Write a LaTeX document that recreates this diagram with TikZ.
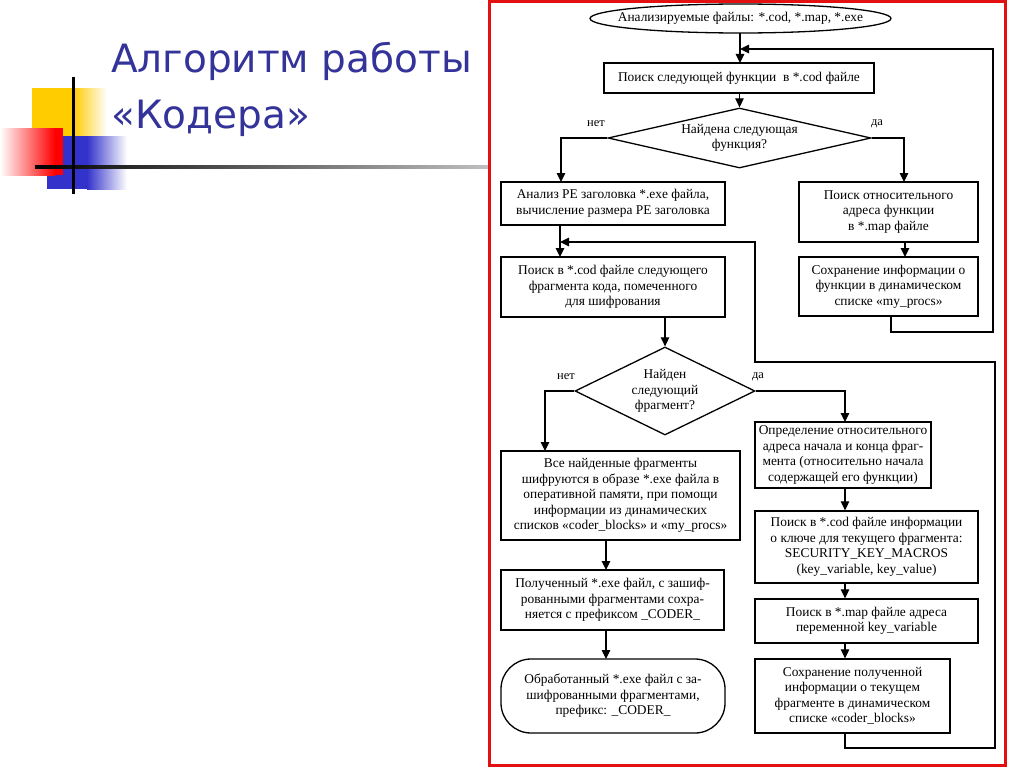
\documentclass[tikz,border=0pt]{standalone}
\usepackage{fontspec}
\setmainfont{Liberation Serif}
\newfontfamily\titlefont{DejaVu Sans}
\usetikzlibrary{arrows.meta,shapes.geometric}
\definecolor{titleblue}{RGB}{51,51,153}
\definecolor{frame}{RGB}{226,16,16}
\definecolor{decoyellow}{RGB}{255,204,0}
\definecolor{decoblue}{RGB}{51,51,204}
\newcommand\flowfont{\fontsize{13.4}{15.5}\selectfont}
\tikzset{
  fbox/.style={draw, line width=1.3pt, inner sep=1pt, align=center, font=\flowfont},
  flowline/.style={line width=1.2pt},
  arr/.style={line width=1.2pt, -{Triangle[length=9pt,width=8.5pt]}},
  yesno/.style={font=\fontsize{12.5}{14}\selectfont, inner sep=0pt},
  ttl/.style={font=\titlefont\fontsize{39}{46}\selectfont, text=titleblue, inner sep=0pt, anchor=base west}
}
\begin{document}
\begin{tikzpicture}[x=1pt,y=-1pt]
\useasboundingbox (0,0) rectangle (1024,768);
\fill[white] (0,0) rectangle (1024,768);

% decoration
\fill[decoyellow] (32,88) rectangle (73,137);
\shade[left color=decoyellow, right color=white] (73,88) rectangle (107,137);
\fill[decoblue] (47,136) rectangle (87,189);
\shade[left color=decoblue, right color=white] (87,136) rectangle (127,189);
\shade[left color=white, right color=red] (0,128) rectangle (55,175);
\fill[red] (55,128) rectangle (63,175);
\shade[left color=black, right color=black!25] (35,165.5) rectangle (488,168.5);
\fill[black] (71.5,77) rectangle (74.5,194);

% title
\node[ttl] (t1) at (111,72) {Алгоритм работы};
\node[ttl] (t2) at (111,128) {«Кодера»};

% frame
\draw[frame, line width=3pt] (489,1.5) rectangle (1005,765);

% nodes
\node[draw, ellipse, line width=1.3pt, minimum width=301pt, minimum height=29pt, inner sep=0pt,
  label={[font=\flowfont, inner sep=0pt]center:Анализируемые файлы: *.cod, *.map, *.exe}] (start) at (740.5,18.5) {};
\node[fbox, minimum width=270pt, minimum height=30pt] (b1) at (739,78) {Поиск следующей функции\ \ в *.cod файле};
\node[draw, diamond, line width=1.3pt, minimum width=263pt, minimum height=60pt, inner sep=0pt,
  label={[font=\flowfont, align=center, inner sep=0pt]center:Найдена следующая\\функция?}] (d1) at (739.5,138) {};
\node[fbox, minimum width=224pt, minimum height=43pt] (b2) at (613,203.5) {Анализ PE заголовка *.exe файла,\\вычисление размера PE заголовка};
\node[fbox, minimum width=224pt, minimum height=60pt] (b4) at (613,287) {Поиск в *.cod файле следующего\\фрагмента кода, помеченного\\для шифрования};
\node[fbox, minimum width=179pt, minimum height=60pt] (b3) at (888.5,212) {Поиск относительного\\адреса функции\\в *.map файле};
\node[fbox, minimum width=179pt, minimum height=59pt] (b5) at (888.5,286.5) {Сохранение информации о\\функции в динамическом\\списке «my\_procs»};
\node[draw, diamond, line width=1.3pt, minimum width=180pt, minimum height=88pt, inner sep=0pt,
  label={[font=\flowfont, align=center, inner sep=0pt]center:Найден\\следующий\\фрагмент?}] (d2) at (665,391) {};
\node[fbox, minimum width=239pt, minimum height=89pt] (b6) at (620.5,495.5) {Все найденные фрагменты\\шифруются в образе *.exe файла в\\оперативной памяти, при помощи\\информации из динамических\\списков «coder\_blocks» и «my\_procs»};
\node[fbox, minimum width=223pt, minimum height=60pt] (b8) at (612.5,600) {Полученный *.exe файл, с зашиф-\\рованными фрагментами сохра-\\няется с префиксом \_CODER\_};
\node[fbox, rounded corners=30pt, minimum width=224pt, minimum height=74pt] (term) at (613,696) {Обработанный *.exe файл с за-\\шифрованными фрагментами,\\префикс: \_CODER\_};
\node[fbox, minimum width=176pt, minimum height=66pt] (b7) at (843,455) {Определение относительного\\адреса начала и конца фраг-\\мента (относительно начала\\содержащей его функции)};
\node[fbox, minimum width=223pt, minimum height=72pt] (b9) at (866.5,547) {Поиск в *.cod файле информации\\о ключе для текущего фрагмента:\\SECURITY\_KEY\_MACROS\\(key\_variable, key\_value)};
\node[fbox, minimum width=223pt, minimum height=44pt] (b10) at (866.5,621) {Поиск в *.map файле адреса\\переменной key\_variable};
\node[fbox, minimum width=195pt, minimum height=74pt] (b11) at (852.5,696) {Сохранение полученной\\информации о текущем\\фрагменте в динамическом\\списке «coder\_blocks»};

% labels
\node[yesno] (n1) at (596,124) {нет};
\node[yesno] (y1) at (877,124) {да};
\node[yesno] (n2) at (566,377) {нет};
\node[yesno] (y2) at (758,377) {да};

% coordinates
\coordinate (s1) at (740,33);
\coordinate (s2) at (740,63);
\coordinate (L1) at (561,182);
\coordinate (R1) at (904,182);
\coordinate (a2) at (560,225);
\coordinate (a4) at (560,257);
\coordinate (b4o) at (665,317);
\coordinate (b3o) at (905,242);
\coordinate (b5i) at (905,257);
\coordinate (p1) at (891,332);
\coordinate (p2) at (993,332);
\coordinate (p3) at (993,49);
\coordinate (p4) at (740,49);
\coordinate (L2) at (545,451);
\coordinate (R2) at (845,422);
\coordinate (c6) at (606,540);
\coordinate (c8) at (606,570);
\coordinate (c8o) at (606,630);
\coordinate (ct) at (606,659);
\coordinate (q1) at (845,748);
\coordinate (q2) at (995,748);
\coordinate (q3) at (995,362);
\coordinate (q4) at (755,362);
\coordinate (q5) at (755,242);
\coordinate (q6) at (560,242);

% connectors
\draw[arr] (s1) -- (s2);
\draw[arr] (b1.south -| d1.north) -- (d1.north);
\draw[arr] (d1.west) -| (L1);
\draw[arr] (d1.east) -| (R1);
\draw[arr] (a2) -- (a4);
\draw[arr] (b3o) -- (b5i);
\draw[arr] (b5.south -| p1) -- (p1) -- (p2) -- (p3) -- (p4);
\draw[arr] (b4o) -- (d2.north);
\draw[arr] (d2.west) -| (L2);
\draw[arr] (d2.east) -| (R2);
\draw[arr] (c6) -- (c8);
\draw[arr] (c8o) -- (ct);
\draw[arr] (b7.south -| R2) -- (b9.north -| R2);
\draw[arr] (b9.south -| R2) -- (b10.north -| R2);
\draw[arr] (b10.south -| R2) -- (b11.north -| R2);
\draw[arr] (b11.south -| q1) -- (q1) -- (q2) -- (q3) -- (q4) -- (q5) -- (q6);
\end{tikzpicture}
\end{document}
